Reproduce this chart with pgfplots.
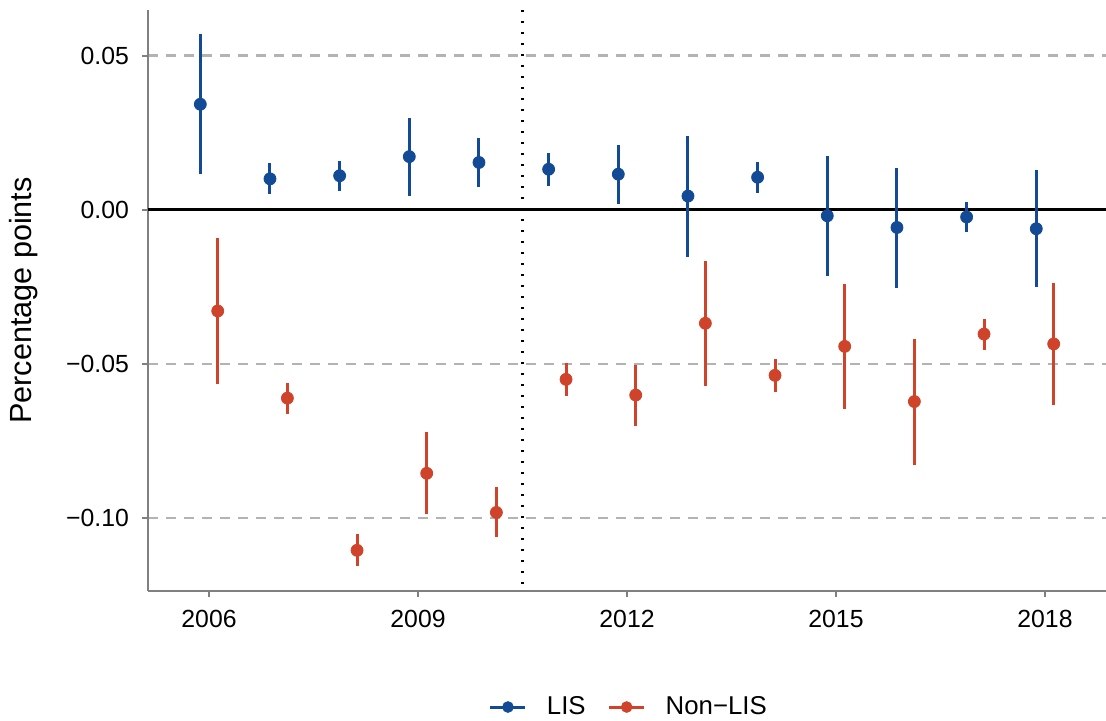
\documentclass[border=0pt]{standalone}
\usepackage{fontspec}
\setmainfont{Liberation Sans}
\usepackage{pgfplots}
\usepackage{pgfplotstable}
\pgfplotsset{compat=1.18}
\definecolor{lisblue}{HTML}{134A95}
\definecolor{nonlisred}{HTML}{D0432B}
\definecolor{axgray}{HTML}{808080}
\definecolor{gridgray}{HTML}{B3B3B3}

% year estimate lower upper
\pgfplotstableread{
year y lo hi
2006 0.0343 0.0117 0.0570
2007 0.0101 0.0052 0.0152
2008 0.0111 0.0062 0.0160
2009 0.0173 0.0045 0.0300
2010 0.0154 0.0074 0.0233
2011 0.0132 0.0079 0.0184
2012 0.0116 0.0019 0.0211
2013 0.0045 -0.0152 0.0240
2014 0.0106 0.0056 0.0157
2015 -0.0019 -0.0213 0.0176
2016 -0.0057 -0.0254 0.0137
2017 -0.0023 -0.0072 0.0027
2018 -0.0061 -0.0249 0.0128
}\lis

\pgfplotstableread{
year y lo hi
2006 -0.0328 -0.0565 -0.0092
2007 -0.0611 -0.0662 -0.0561
2008 -0.1105 -0.1156 -0.1053
2009 -0.0855 -0.0987 -0.0722
2010 -0.0982 -0.1063 -0.0901
2011 -0.0550 -0.0604 -0.0498
2012 -0.0601 -0.0700 -0.0503
2013 -0.0368 -0.0571 -0.0166
2014 -0.0537 -0.0590 -0.0485
2015 -0.0443 -0.0645 -0.0240
2016 -0.0622 -0.0828 -0.0419
2017 -0.0403 -0.0455 -0.0353
2018 -0.0435 -0.0634 -0.0236
}\nonlis

\begin{document}
\begin{tikzpicture}
\begin{axis}[
    width=479pt, height=290.5pt,
    scale only axis=true,
    xmin=2005.124, xmax=2018.876,
    ymin=-0.1237, ymax=0.0649,
    axis x line*=bottom,
    axis y line*=left,
    axis line style={axgray, line width=1.1pt, -},
    tick align=outside,
    major tick length=3pt,
    tick style={axgray, line width=1.1pt},
    xtick={2006,2009,2012,2015,2018},
    xticklabels={2006,2009,2012,2015,2018},
    ytick={-0.1,-0.05,0,0.05},
    yticklabels={−0.10,−0.05,0.00,0.05},
    ticklabel style={font=\fontsize{12.4}{14}\selectfont, black},
    xticklabel style={yshift=-3pt},
    yticklabel style={xshift=-3pt},
    ymajorgrids=true,
    grid style={gridgray, line width=1.4pt, dash pattern=on 5pt off 4pt},
    ylabel={Percentage points},
    ylabel style={at={(axis description cs:-0.1294,0.5)}, anchor=center,
        font=\fontsize{15.3}{18}\selectfont},
    legend style={at={(0.503,-0.1997)}, anchor=center, draw=none,
        legend columns=2, font=\fontsize{12.9}{15}\selectfont,
        /tikz/every odd column/.append style={column sep=8pt},
        /tikz/every even column/.append style={column sep=9pt},
        inner sep=0pt},
    legend cell align=left,
]
% reference lines
\addplot[forget plot, black, line width=1.5pt] coordinates {(2004,0) (2020,0)};
\addplot[forget plot, black, line width=1.3pt, dash pattern=on 1.2pt off 4.3pt]
    coordinates {(2010.5,-0.2) (2010.5,0.1)};

\addplot[only marks, mark=*, mark size=3pt,
    mark options={draw=lisblue, fill=lisblue},
    legend image code/.code={
        \draw[lisblue, line width=1.5pt] (0pt,0pt) -- (17.5pt,0pt);
        \fill[lisblue] (8.75pt,0pt) circle (2.7pt);},
    error bars/.cd, y dir=both, y explicit, error mark=none,
    error bar style={lisblue, line width=1.5pt}]
    table[x expr=\thisrow{year}-0.125, y=y,
          y error plus expr=\thisrow{hi}-\thisrow{y},
          y error minus expr=\thisrow{y}-\thisrow{lo}] {\lis};
\addlegendentry{LIS}

\addplot[only marks, mark=*, mark size=3pt,
    mark options={draw=nonlisred, fill=nonlisred},
    legend image code/.code={
        \draw[nonlisred, line width=1.5pt] (0pt,0pt) -- (17.5pt,0pt);
        \fill[nonlisred] (8.75pt,0pt) circle (2.7pt);},
    error bars/.cd, y dir=both, y explicit, error mark=none,
    error bar style={nonlisred, line width=1.5pt}]
    table[x expr=\thisrow{year}+0.125, y=y,
          y error plus expr=\thisrow{hi}-\thisrow{y},
          y error minus expr=\thisrow{y}-\thisrow{lo}] {\nonlis};
\addlegendentry{Non−LIS}

\coordinate (bl) at (rel axis cs:0,0);
\coordinate (tr) at (rel axis cs:1,1);
\end{axis}
\pgfresetboundingbox
\path ([xshift=-74pt,yshift=-65pt]bl) rectangle ([yshift=5pt]tr);
\end{tikzpicture}
\end{document}
